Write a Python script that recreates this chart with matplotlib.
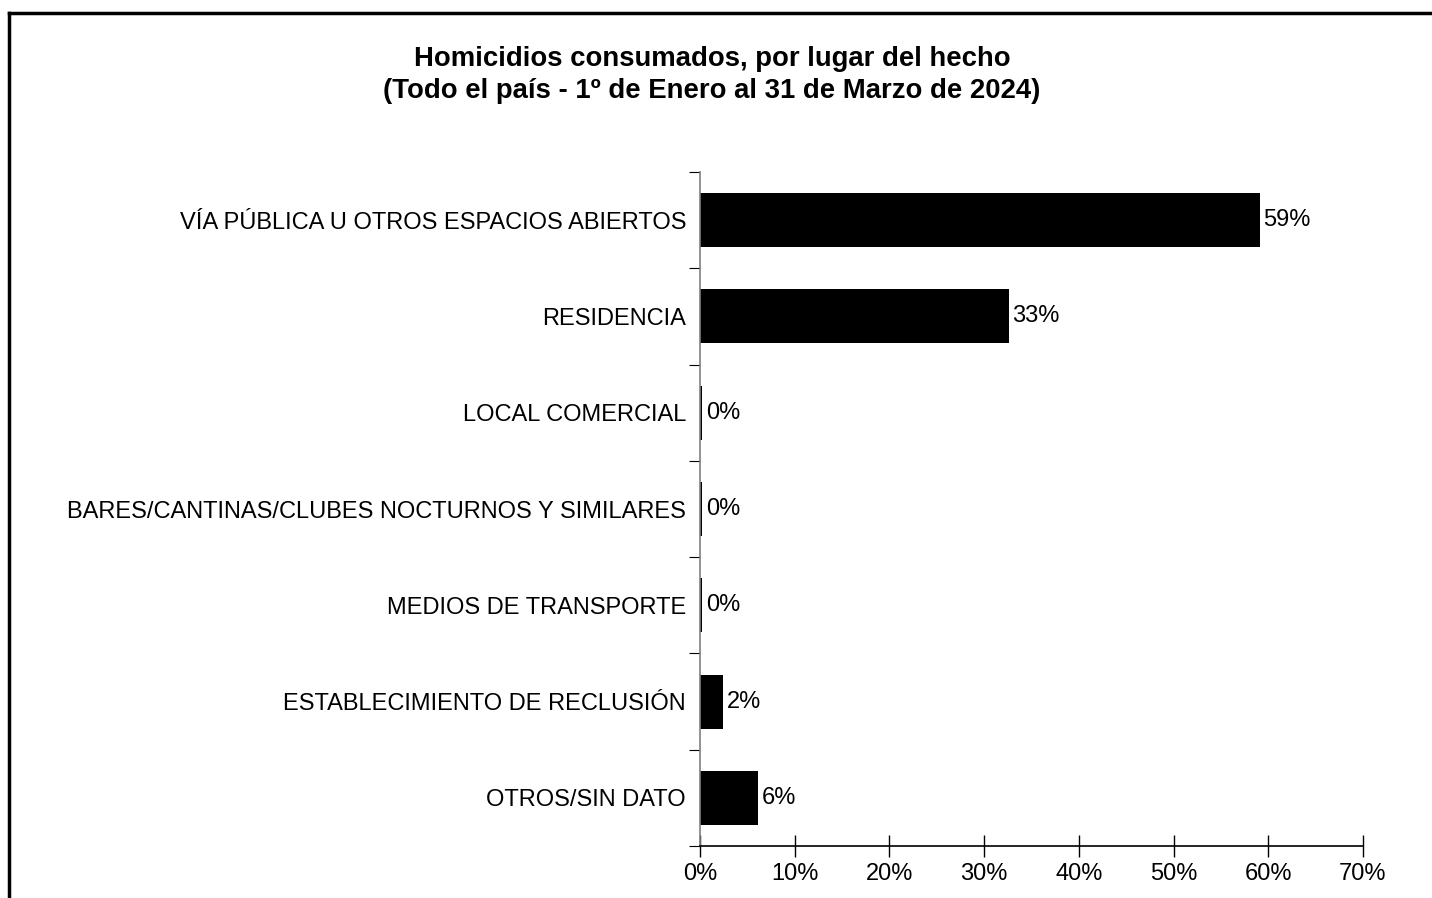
import matplotlib.pyplot as plt
from matplotlib.lines import Line2D

plt.rcParams['font.family'] = ['Liberation Sans', 'DejaVu Sans']

# datos (porcentajes)
lugares = ["VÍA PÚBLICA U OTROS ESPACIOS ABIERTOS", "RESIDENCIA", "LOCAL COMERCIAL",
           "BARES/CANTINAS/CLUBES NOCTURNOS Y SIMILARES", "MEDIOS DE TRANSPORTE",
           "ESTABLECIMIENTO DE RECLUSIÓN", "OTROS/SIN DATO"]
valores = [59.1, 32.6, 0.2, 0.2, 0.2, 2.4, 6.1]
etiquetas = ["59%", "33%", "0%", "0%", "0%", "2%", "6%"]

W, H = 1432, 898
fig = plt.figure(figsize=(W / 100, H / 100), dpi=100)
ax = fig.add_axes([700 / W, 1 - 846 / H, 663 / W, 674 / H])

y = list(range(len(lugares)))
ax.barh(y, valores, height=0.56, color='k')
for yi, v, t in zip(y, valores, etiquetas):
    ax.text(v + 0.4, yi, t, va='center', ha='left', fontsize=17)

ax.set_xlim(0, 70)
ax.set_ylim(len(lugares) - 0.5, -0.5)
ax.set_xticks(range(0, 71, 10))
ax.set_xticklabels([f"{x}%" for x in range(0, 71, 10)], fontsize=17)
ax.tick_params(axis='x', direction='inout', length=16, width=1, pad=4)

# marcas del eje y en los bordes de categoria
ax.set_yticks([i - 0.5 for i in range(len(lugares) + 1)])
ax.set_yticklabels([])
ax.set_yticks(y, minor=True)
ax.set_yticklabels(lugares, minor=True, fontsize=17)
ax.tick_params(axis='y', which='major', direction='out', length=8, color='k')
ax.tick_params(axis='y', which='minor', length=0, pad=10)

ax.spines['top'].set_visible(False)
ax.spines['right'].set_visible(False)
ax.spines['left'].set_color('#808080')
ax.spines['left'].set_linewidth(1.2)
ax.spines['bottom'].set_linewidth(1.2)

fig.text(712 / W, 1 - 75 / H,
         "Homicidios consumados, por lugar del hecho\n(Todo el país - 1º de Enero al 31 de Marzo de 2024)",
         ha='center', va='center', fontsize=19.8, fontweight='bold', linespacing=1.25)

# marco exterior
fig.add_artist(Line2D([9 / W, 1.0], [1 - 12.5 / H, 1 - 12.5 / H], color='k', lw=2.5, transform=fig.transFigure))
fig.add_artist(Line2D([9 / W, 9 / W], [0.0, 1 - 12.5 / H], color='k', lw=2.5, transform=fig.transFigure))

fig.savefig("out.png", dpi=100)
